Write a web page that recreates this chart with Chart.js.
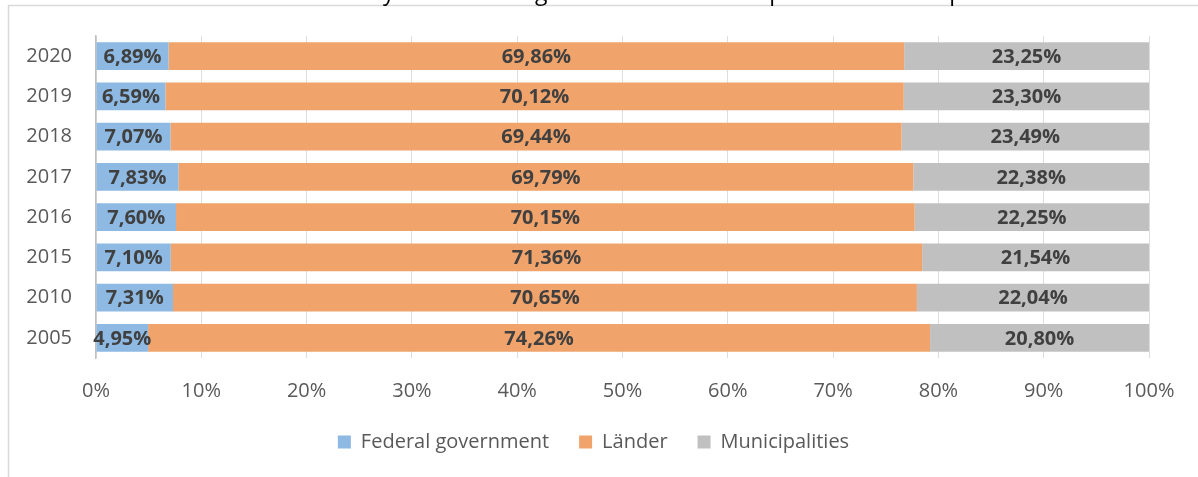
<!DOCTYPE html>
<html>
<head>
<meta charset="utf-8">
<script src="https://cdn.jsdelivr.net/npm/chart.js@4"></script>
<style>
  html, body { margin: 0; padding: 0; background: #fff; }
  #wrap { width: 1198px; height: 477px; position: relative; }
</style>
</head>
<body>
<div id="wrap"><canvas id="shareChart" width="1198" height="477"></canvas></div>
<script>
// values (per cent of total)
const years = ['2020', '2019', '2018', '2017', '2016', '2015', '2010', '2005'];
const federal = [6.89, 6.59, 7.07, 7.83, 7.60, 7.10, 7.31, 4.95];
const laender = [69.86, 70.12, 69.44, 69.79, 70.15, 71.36, 70.65, 74.26];
const municipalities = [23.25, 23.30, 23.49, 22.38, 22.25, 21.54, 22.04, 20.80];
const seriesNames = ['Federal government', 'Länder', 'Municipalities'];
const titleText = 'Distribution of tax revenue by the levels of government in all the public sectors in per cent';

const FONT = '"Open Sans", "Noto Sans", sans-serif';
const fmt = v => v.toFixed(2).replace('.', ',') + '%';

// frame + clipped title (only descenders show above the frame)
const framePlugin = {
    id: 'frame',
    beforeDraw(chart) {
        const c = chart.ctx;
        c.save();
        c.fillStyle = '#fff';
        c.fillRect(0, 0, chart.width, chart.height);
        c.strokeStyle = '#d9d9d9';
        c.lineWidth = 1.5;
        c.strokeRect(8.5, 5.5, chart.width + 40, chart.height + 40);
        c.font = '23px ' + FONT;
        c.fillStyle = '#000';
        c.textBaseline = 'alphabetic';
        const pre = c.measureText('Distribution of tax revenue b').width;
        c.fillText(titleText, 383 - pre, 0);
        c.restore();
    },
    afterLayout(chart) {
        // legend in the original sits a bit right of the plot centre
        chart.legend.left += 19;
        chart.legend.right += 19;
    }
};

const labelPlugin = {
    id: 'barLabels',
    afterDatasetsDraw(chart) {
        const c = chart.ctx;
        c.save();
        c.font = 'bold 20px ' + FONT;
        c.fillStyle = '#404040';
        c.textAlign = 'center';
        c.textBaseline = 'middle';
        chart.data.datasets.forEach((ds, i) => {
            chart.getDatasetMeta(i).data.forEach((bar, j) => {
                c.fillText(fmt(ds.data[j]), (bar.x + bar.base) / 2, bar.y + 1);
            });
        });
        c.restore();
    }
};

const ctx = document.getElementById('shareChart').getContext('2d');
const shareChart = new Chart(ctx, {
    type: 'bar',
    data: {
        labels: years,
        datasets: [
            { label: seriesNames[0], data: federal, backgroundColor: '#8db9e2' },
            { label: seriesNames[1], data: laender, backgroundColor: '#f0a46c' },
            { label: seriesNames[2], data: municipalities, backgroundColor: '#c0c0c0' }
        ]
    },
    options: {
        indexAxis: 'y',
        responsive: false,
        animation: false,
        devicePixelRatio: 1,
        layout: { padding: { left: 0, right: 49, top: 34, bottom: 15 } },
        datasets: { bar: { barPercentage: 0.69, categoryPercentage: 1 } },
        scales: {
            x: {
                stacked: true,
                min: 0,
                max: 100,
                z: 1,
                ticks: {
                    stepSize: 10,
                    callback: v => v + '%',
                    color: '#595959',
                    font: { family: FONT, size: 20 },
                    padding: 21
                },
                grid: { color: 'rgba(0,0,0,0.13)', drawTicks: false },
                border: { display: false },
                afterFit(scale) { scale.height = 44; }
            },
            y: {
                stacked: true,
                ticks: {
                    color: '#595959',
                    font: { family: FONT, size: 20 },
                    padding: 24
                },
                grid: { display: false, drawTicks: false },
                border: { display: true, color: '#bfbfbf', width: 1.5 },
                afterFit(scale) { scale.width = 96; }
            }
        },
        plugins: {
            legend: {
                position: 'bottom',
                labels: {
                    color: '#595959',
                    font: { family: FONT, size: 20 },
                    boxWidth: 13,
                    boxHeight: 13,
                    padding: 30
                }
            },
            tooltip: { enabled: false }
        }
    },
    plugins: [framePlugin, labelPlugin]
});
</script>
</body>
</html>
